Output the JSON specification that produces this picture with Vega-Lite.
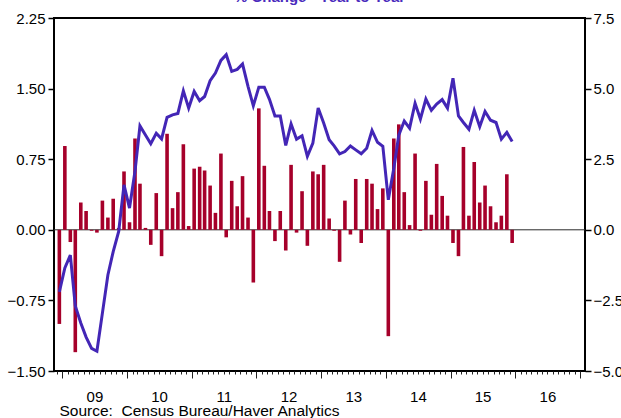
{
  "$schema": "https://vega.github.io/schema/vega-lite/v6.json",
  "width": 531,
  "height": 353,
  "autosize": "none",
  "padding": {"left": 54, "top": 18, "right": 36, "bottom": 47},
  "background": "white",
  "config": {
    "view": {"stroke": "black", "strokeWidth": 2},
    "font": "Liberation Sans",
    "axis": {"labelFont": "Liberation Sans", "titleFont": "Liberation Sans", "labelColor": "black", "grid": false, "domain": false}
  },
  "title": {
    "text": "% Change - Year to Year",
    "color": "#4a2bbd",
    "font": "Liberation Sans",
    "fontSize": 15,
    "fontWeight": "bold",
    "anchor": "middle",
    "baseline": "alphabetic",
    "offset": 0,
    "dy": 6
  },
  "data": {"values": [
    {"date": "2008-12-15", "mom": -1.00, "yoy": -2.2},
    {"date": "2009-01-15", "mom": 0.89, "yoy": -1.35},
    {"date": "2009-02-15", "mom": -0.13, "yoy": -0.9},
    {"date": "2009-03-15", "mom": -1.30, "yoy": -2.7},
    {"date": "2009-04-15", "mom": 0.29, "yoy": -3.3},
    {"date": "2009-05-15", "mom": 0.20, "yoy": -3.8},
    {"date": "2009-06-15", "mom": -0.01, "yoy": -4.2},
    {"date": "2009-07-15", "mom": -0.03, "yoy": -4.3},
    {"date": "2009-08-15", "mom": 0.31, "yoy": -2.95},
    {"date": "2009-09-15", "mom": 0.13, "yoy": -1.6},
    {"date": "2009-10-15", "mom": 0.33, "yoy": -0.77},
    {"date": "2009-11-15", "mom": 0.02, "yoy": -0.06},
    {"date": "2009-12-15", "mom": 0.62, "yoy": 1.59},
    {"date": "2010-01-15", "mom": 0.08, "yoy": 0.77},
    {"date": "2010-02-15", "mom": 0.97, "yoy": 2.07},
    {"date": "2010-03-15", "mom": 0.49, "yoy": 3.68},
    {"date": "2010-04-15", "mom": 0.02, "yoy": 3.36},
    {"date": "2010-05-15", "mom": -0.16, "yoy": 3.05},
    {"date": "2010-06-15", "mom": 0.39, "yoy": 3.42},
    {"date": "2010-07-15", "mom": -0.28, "yoy": 3.22},
    {"date": "2010-08-15", "mom": 1.02, "yoy": 3.98},
    {"date": "2010-09-15", "mom": 0.23, "yoy": 4.07},
    {"date": "2010-10-15", "mom": 0.40, "yoy": 4.12},
    {"date": "2010-11-15", "mom": 0.91, "yoy": 4.92},
    {"date": "2010-12-15", "mom": 0.04, "yoy": 4.31},
    {"date": "2011-01-15", "mom": 0.65, "yoy": 4.90},
    {"date": "2011-02-15", "mom": 0.67, "yoy": 4.57},
    {"date": "2011-03-15", "mom": 0.63, "yoy": 4.72},
    {"date": "2011-04-15", "mom": 0.47, "yoy": 5.28},
    {"date": "2011-05-15", "mom": 0.18, "yoy": 5.55},
    {"date": "2011-06-15", "mom": 0.81, "yoy": 6.00},
    {"date": "2011-07-15", "mom": -0.08, "yoy": 6.20},
    {"date": "2011-08-15", "mom": 0.52, "yoy": 5.61},
    {"date": "2011-09-15", "mom": 0.25, "yoy": 5.68},
    {"date": "2011-10-15", "mom": 0.57, "yoy": 5.87},
    {"date": "2011-11-15", "mom": 0.13, "yoy": 5.08},
    {"date": "2011-12-15", "mom": -0.56, "yoy": 4.39},
    {"date": "2012-01-15", "mom": 1.29, "yoy": 5.05},
    {"date": "2012-02-15", "mom": 0.68, "yoy": 5.05},
    {"date": "2012-03-15", "mom": 0.20, "yoy": 4.62},
    {"date": "2012-04-15", "mom": -0.12, "yoy": 4.03},
    {"date": "2012-05-15", "mom": 0.20, "yoy": 4.03},
    {"date": "2012-06-15", "mom": -0.22, "yoy": 2.99},
    {"date": "2012-07-15", "mom": 0.69, "yoy": 3.75},
    {"date": "2012-08-15", "mom": -0.03, "yoy": 3.21},
    {"date": "2012-09-15", "mom": 0.41, "yoy": 3.33},
    {"date": "2012-10-15", "mom": -0.17, "yoy": 2.60},
    {"date": "2012-11-15", "mom": 0.62, "yoy": 3.07},
    {"date": "2012-12-15", "mom": 0.59, "yoy": 4.31},
    {"date": "2013-01-15", "mom": 0.69, "yoy": 3.78},
    {"date": "2013-02-15", "mom": 0.12, "yoy": 3.19},
    {"date": "2013-03-15", "mom": -0.01, "yoy": 2.97},
    {"date": "2013-04-15", "mom": -0.34, "yoy": 2.69},
    {"date": "2013-05-15", "mom": 0.31, "yoy": 2.77},
    {"date": "2013-06-15", "mom": -0.05, "yoy": 2.97},
    {"date": "2013-07-15", "mom": 0.54, "yoy": 2.83},
    {"date": "2013-08-15", "mom": -0.14, "yoy": 2.69},
    {"date": "2013-09-15", "mom": 0.54, "yoy": 2.89},
    {"date": "2013-10-15", "mom": 0.49, "yoy": 3.52},
    {"date": "2013-11-15", "mom": 0.22, "yoy": 3.10},
    {"date": "2013-12-15", "mom": 0.44, "yoy": 2.96},
    {"date": "2014-01-15", "mom": -1.13, "yoy": 1.06},
    {"date": "2014-02-15", "mom": 0.97, "yoy": 2.18},
    {"date": "2014-03-15", "mom": 1.12, "yoy": 3.35},
    {"date": "2014-04-15", "mom": 0.40, "yoy": 3.85},
    {"date": "2014-05-15", "mom": 0.05, "yoy": 3.60},
    {"date": "2014-06-15", "mom": 0.81, "yoy": 4.48},
    {"date": "2014-07-15", "mom": -0.01, "yoy": 3.92},
    {"date": "2014-08-15", "mom": 0.52, "yoy": 4.63},
    {"date": "2014-09-15", "mom": 0.16, "yoy": 4.23},
    {"date": "2014-10-15", "mom": 0.70, "yoy": 4.45},
    {"date": "2014-11-15", "mom": 0.36, "yoy": 4.61},
    {"date": "2014-12-15", "mom": 0.15, "yoy": 4.31},
    {"date": "2015-01-15", "mom": -0.14, "yoy": 5.37},
    {"date": "2015-02-15", "mom": -0.28, "yoy": 4.03},
    {"date": "2015-03-15", "mom": 0.88, "yoy": 3.80},
    {"date": "2015-04-15", "mom": 0.15, "yoy": 3.56},
    {"date": "2015-05-15", "mom": 0.72, "yoy": 4.23},
    {"date": "2015-06-15", "mom": 0.29, "yoy": 3.65},
    {"date": "2015-07-15", "mom": 0.47, "yoy": 4.19},
    {"date": "2015-08-15", "mom": 0.25, "yoy": 3.88},
    {"date": "2015-09-15", "mom": 0.08, "yoy": 3.80},
    {"date": "2015-10-15", "mom": 0.15, "yoy": 3.21},
    {"date": "2015-11-15", "mom": 0.59, "yoy": 3.45},
    {"date": "2015-12-15", "mom": -0.14, "yoy": 3.13}
  ]},
  "layer": [
    {
      "layer": [
        {
          "data": {"values": [{"z": 0}]},
          "mark": {"type": "rule", "color": "#2a2a2a", "strokeWidth": 1},
          "encoding": {"y": {"field": "z", "type": "quantitative"}}
        },
        {
          "mark": {"type": "bar", "color": "#a6002a", "size": 3.6},
          "encoding": {
            "x": {
              "field": "date", "type": "temporal",
              "scale": {"domain": [{"year": 2008, "month": 12, "date": 13}, {"year": 2017, "month": 1, "date": 1}]},
              "axis": {
                "orient": "bottom",
                "tickCount": {"interval": "month", "step": 1},
                "tickSize": {"condition": {"test": "month(datum.value) == 0", "value": 7}, "value": 3},
                "tickColor": "#222",
                "tickWidth": 1,
                "labelExpr": "month(datum.value) == 6 ? timeFormat(datum.value, '%y') : ''",
                "labelOverlap": false,
                "labelFlush": false,
                "labelFontSize": 15,
                "labelPadding": 15,
                "labelBound": false,
                "title": "Source:\u00a0 Census Bureau/Haver Analytics",
                "titleFontSize": 15.5,
                "titleFontWeight": "normal",
                "titleColor": "black",
                "titleAnchor": "start",
                "titleAlign": "left",
                "titleBaseline": "alphabetic",
                "titleX": 5,
                "titleY": 44
              }
            },
            "y": {
              "field": "mom", "type": "quantitative",
              "scale": {"domain": [-1.5, 2.25], "nice": false, "zero": false},
              "axis": {
                "orient": "left",
                "values": [-1.5, -0.75, 0, 0.75, 1.5, 2.25],
                "format": ".2f",
                "title": null,
                "tickSize": 6,
                "tickWidth": 1.5,
                "tickColor": "black",
                "labelFontSize": 15,
                "labelPadding": 3
              }
            }
          }
        }
      ]
    },
    {
      "mark": {"type": "line", "color": "#4326b6", "strokeWidth": 3},
      "encoding": {
        "x": {"field": "date", "type": "temporal"},
        "y": {
          "field": "yoy", "type": "quantitative",
          "scale": {"domain": [-5, 7.5], "nice": false, "zero": false},
          "axis": {
            "orient": "right",
            "values": [-5, -2.5, 0, 2.5, 5, 7.5],
            "format": ".1f",
            "title": null,
            "tickSize": 6,
            "tickWidth": 1.5,
            "tickColor": "black",
            "labelFontSize": 15,
            "labelPadding": 2
          }
        }
      }
    }
  ],
  "resolve": {"scale": {"y": "independent"}}
}
